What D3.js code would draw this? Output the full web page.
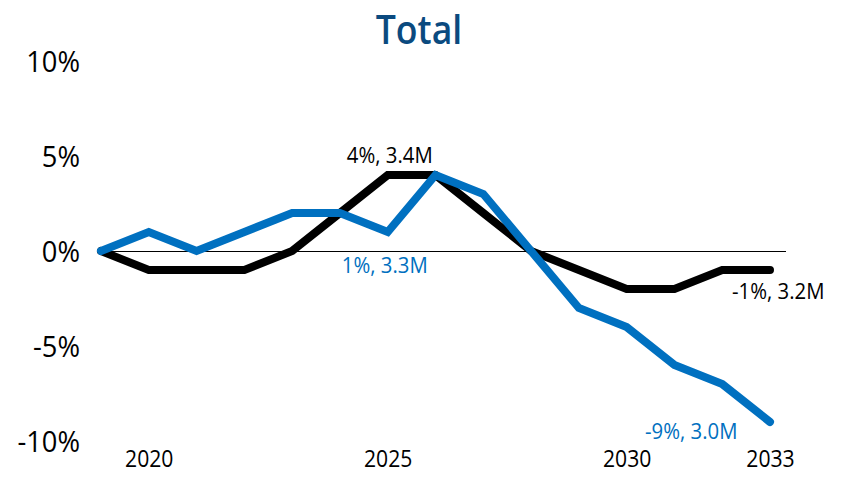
<!DOCTYPE html>
<html>
<head>
<meta charset="utf-8">
<script src="https://cdn.jsdelivr.net/npm/d3@7"></script>
<style>
    body { margin: 0; background: #fff; }
    svg { font-family: "Open Sans", sans-serif; }
</style>
</head>
<body>
<svg id="chart" width="845" height="483"></svg>
<script>
// years on the x axis
let years = [2019, 2020, 2021, 2022, 2023, 2024, 2025, 2026, 2027, 2028, 2029, 2030, 2031, 2032, 2033];
// percent change, black series
let blackValues = [0, -1, -1, -1, 0, 2, 4, 4, 2, 0, -1, -2, -2, -1, -1];
// percent change, blue series
let blueValues = [0, 1, 0, 1, 2, 2, 1, 4, 3, 0, -3, -4, -6, -7, -9];
let yTicks = [10, 5, 0, -5, -10];
let xTicks = [2020, 2025, 2030, 2033];
// annotations: [year, value, text, series]
let notes = [
    [2025, 4, "4%, 3.4M", "black"],
    [2025, 1, "1%, 3.3M", "blue"],
    [2033, -1, "-1%, 3.2M", "black"],
    [2033, -9, "-9%, 3.0M", "blue"]
];

let colors = { black: "#000000", blue: "#0070c0" };

let svg = d3.select("#chart");

let x = d3.scaleLinear().domain([2019, 2033]).range([101, 770]);
let y = d3.scaleLinear().domain([-10, 10]).range([441, 61]);

// title
svg.append("text")
    .attr("transform", "translate(419,44) scale(0.89,1)")
    .attr("text-anchor", "middle")
    .attr("font-size", 40)
    .attr("font-weight", 600)
    .attr("fill", "#0b4a7f")
    .text("Total");

// y axis labels
let yAxis = d3.axisLeft(y)
    .tickValues(yTicks)
    .tickSize(0)
    .tickPadding(0)
    .tickFormat(d => d + "%");
svg.append("g")
    .attr("transform", "translate(80,1)")
    .call(yAxis)
    .call(g => g.select(".domain").remove())
    .selectAll("text")
    .attr("font-size", 30)
    .attr("transform", "scale(0.91,1)")
    .attr("font-family", "Open Sans, sans-serif")
    .attr("fill", "#000");

// x axis labels
let xAxis = d3.axisBottom(x)
    .tickValues(xTicks)
    .tickSize(0)
    .tickPadding(0)
    .tickFormat(d3.format("d"));
svg.append("g")
    .attr("transform", "translate(0,451)")
    .call(xAxis)
    .call(g => g.select(".domain").remove())
    .selectAll("text")
    .attr("font-size", 23)
    .attr("transform", "scale(0.92,1)")
    .attr("font-family", "Open Sans, sans-serif")
    .attr("fill", "#000");

// zero line
svg.append("line")
    .attr("x1", 100)
    .attr("x2", 786)
    .attr("y1", Math.round(y(0)) + 0.5)
    .attr("y2", Math.round(y(0)) + 0.5)
    .attr("stroke", "#000")
    .attr("stroke-width", 1);

let line = d3.line()
    .x((d, i) => x(years[i]))
    .y(d => y(d));

[[blackValues, "black"], [blueValues, "blue"]].forEach(function (s) {
    svg.append("path")
        .datum(s[0])
        .attr("d", line)
        .attr("fill", "none")
        .attr("stroke", colors[s[1]])
        .attr("stroke-width", 8)
        .attr("stroke-linejoin", "miter")
        .attr("stroke-linecap", "round");
});

// annotations
let offsets = [[2, -12], [-3, 41], [-38, 29], [-125, 17]];
svg.selectAll(".note")
    .data(notes)
    .enter()
    .append("text")
    .attr("class", "note")
    .attr("transform", (d, i) => "translate(" + (x(d[0]) + offsets[i][0]) + "," + (y(d[1]) + offsets[i][1]) + ") scale(0.97,1)")
    .attr("text-anchor", (d, i) => i < 2 ? "middle" : "start")
    .attr("font-size", 21)
    .attr("fill", d => colors[d[3]])
    .text(d => d[2]);
</script>
</body>
</html>
